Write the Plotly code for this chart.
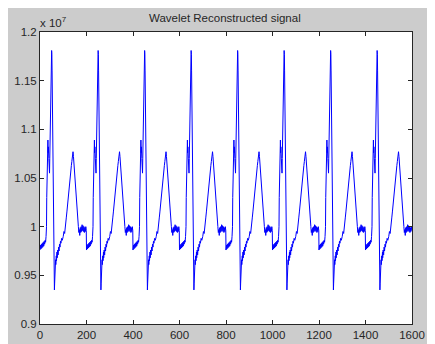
import plotly.graph_objects as go

# ---- data (y in units of 1e7) ----
beat_starts = [0, 200, 400, 600, 800, 1000, 1200, 1400]
beat_offsets = [0, 2, 4, 6, 8, 10, 12, 14, 16, 18, 20, 22, 24, 26, 28, 29, 30, 31, 32, 33,
                34, 35, 36, 38, 40, 41, 42, 44, 46, 48, 49, 50, 51, 52, 53, 54, 55, 56, 57, 59,
                61, 62, 63, 64, 65, 66, 67, 68, 70, 71, 73, 74, 76, 78, 80, 82, 84, 86, 88, 90,
                93, 96, 100, 103, 106, 108, 111, 113, 116, 118, 120, 122, 125, 127, 130, 132, 135, 137, 139, 141,
                142, 144, 146, 148, 150, 152, 155, 157, 159, 161, 163, 165, 167, 169, 171, 173, 175, 177, 179, 181,
                183, 185, 187, 189, 191, 193, 195, 197, 199]
beat_values = [0.976, 0.981, 0.977, 0.982, 0.978, 0.983, 0.979, 0.984, 0.980, 0.985, 0.982, 0.986, 0.984, 0.990, 1.000, 1.030, 1.060, 1.078, 1.070, 1.085,
               1.089, 1.076, 1.082, 1.070, 1.060, 1.055, 1.070, 1.100, 1.135, 1.168, 1.179, 1.181, 1.177, 1.160, 1.130, 1.100, 1.070, 1.030, 0.990, 0.955,
               0.937, 0.935, 0.942, 0.952, 0.962, 0.958, 0.966, 0.961, 0.970, 0.965, 0.974, 0.968, 0.976, 0.971, 0.979, 0.975, 0.982, 0.979, 0.985, 0.983,
               0.988, 0.986, 0.990, 0.995, 0.993, 1.000, 1.005, 1.009, 1.016, 1.022, 1.026, 1.032, 1.040, 1.044, 1.052, 1.058, 1.063, 1.067, 1.072, 1.075,
               1.077, 1.072, 1.064, 1.058, 1.050, 1.044, 1.037, 1.030, 1.022, 1.015, 1.008, 1.000, 0.994, 0.997, 0.991, 0.999, 0.994, 1.000, 0.995, 1.002,
               0.996, 1.001, 0.995, 1.000, 0.994, 0.999, 0.995, 1.000, 0.996]

x_tick_values = [0, 200, 400, 600, 800, 1000, 1200, 1400, 1600]
x_tick_labels = ["0", "200", "400", "600", "800", "1000", "1200", "1400", "1600"]
y_tick_values = [0.9, 0.95, 1.0, 1.05, 1.1, 1.15, 1.2]
y_tick_labels = ["0.9", "0.95", "1", "1.05", "1.1", "1.15", "1.2"]

title_text = "Wavelet Reconstructed signal"
exponent_text = "x 10<sup>7</sup>"

xs, ys = [], []
for s in beat_starts:
    for o, v in zip(beat_offsets, beat_values):
        xs.append(s + o)
        ys.append(v)

# the page body adds an 8px white margin at top/left, like the reference's white strip
W, H = 427, 336
L, R, T, B = 32, 23, 24, 20
pw, ph = W - L - R, H - T - B

fig = go.Figure()
fig.add_trace(go.Scatter(x=xs, y=ys, mode="lines",
                         line=dict(color="#0000ff", width=1), hoverinfo="skip"))

font = dict(family="Liberation Sans, Arial, sans-serif", size=11.5, color="#262626")
axis_common = dict(showline=True, mirror="ticks", linecolor="#262626", linewidth=1,
                   ticks="inside", ticklen=4, tickcolor="#262626", tickwidth=1,
                   showgrid=False, zeroline=False, automargin=False, tickfont=font)

fig.update_layout(
    width=W, height=H,
    margin=dict(l=L, r=R, t=T, b=B, pad=0),
    paper_bgcolor="#cccccc", plot_bgcolor="#ffffff",
    showlegend=False,
    xaxis=dict(range=[0, 1600], tickvals=x_tick_values, ticktext=x_tick_labels, **axis_common),
    yaxis=dict(range=[0.9, 1.2], tickvals=y_tick_values, ticktext=y_tick_labels, **axis_common),
    annotations=[
        dict(text=title_text, xref="paper", yref="paper", x=0.5, y=1 + (T - 10) / ph,
             xanchor="center", yanchor="middle", xshift=-1.5, showarrow=False, font=font),
        dict(text=exponent_text, xref="paper", yref="paper", x=0, y=1 + (T - 14) / ph,
             xanchor="left", yanchor="middle", xshift=-2, showarrow=False, font=font),
    ],
)

fig.write_html("out.html")
